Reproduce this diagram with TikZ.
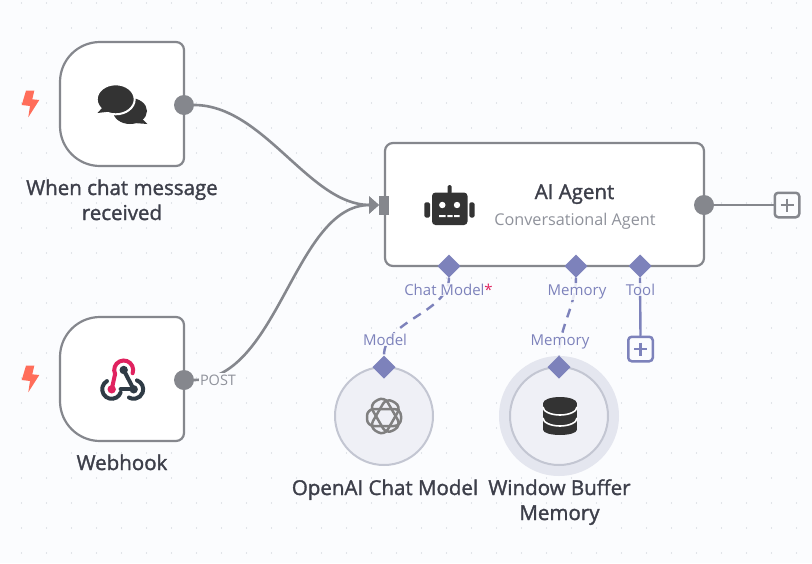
\documentclass[tikz,border=0pt]{standalone}
\usepackage{fontspec}
\setmainfont{Open Sans}
\newfontfamily\semib[FakeBold=1.5]{Open Sans}
\usetikzlibrary{shapes.geometric,arrows.meta,calc}
\definecolor{canvasbg}{HTML}{FBFCFE}
\definecolor{griddot}{HTML}{C8CCD4}
\definecolor{edgegray}{HTML}{85878D}
\definecolor{inkdark}{HTML}{333333}
\definecolor{labeldark}{HTML}{3D3F4A}
\definecolor{subgray}{HTML}{8F929B}
\definecolor{portblue}{HTML}{7D82BB}
\definecolor{circfill}{HTML}{EFF0F6}
\definecolor{circline}{HTML}{C3C6D2}
\definecolor{halo}{HTML}{E4E6EF}
\definecolor{boltred}{HTML}{FF6D5A}
\definecolor{hookred}{HTML}{E0225F}
\definecolor{hookdark}{HTML}{2F3B45}
\tikzset{
  boxline/.style={draw=edgegray,line width=2.2pt,fill=white},
  anchorbox/.style={minimum width=124pt,minimum height=124pt,inner sep=0pt,outer sep=0pt},
  outdot/.style={circle,fill=edgegray,minimum size=20pt,inner sep=0pt,outer sep=0pt},
  subport/.style={diamond,fill=portblue,minimum size=23pt,inner sep=0pt,outer sep=0pt},
  plusbox/.style={draw=#1,line width=2.5pt,rounded corners=3.5pt,fill=canvasbg,minimum size=24.5pt,inner sep=0pt,outer sep=1pt},
  title/.style={text=labeldark,font=\semib\fontsize{20.5}{25}\selectfont,align=center,inner sep=0pt,anchor=base},
  conn/.style={draw=edgegray,line width=2.6pt},
  subconn/.style={draw=portblue,line width=2.4pt},
  portlabel/.style={text=portblue,font=\fontsize{15}{16}\selectfont,fill=canvasbg,fill opacity=.85,text opacity=1,inner sep=1pt,anchor=base},
  roundnode/.style={circle,draw=circline,line width=2pt,fill=circfill,minimum size=98pt,inner sep=0pt,outer sep=0pt},
  boltshape/.style={fill=boltred},
}
\begin{document}
\begin{tikzpicture}[x=1pt,y=-1pt]
\useasboundingbox (0,0) rectangle (812,563);
\fill[canvasbg] (0,0) rectangle (812,563);
\foreach \i in {0,...,31}{\foreach \j in {0,...,22}{
  \fill[griddot] (21.5+25*\i,3+25*\j) circle (.6pt);}}

% anchors of the nodes
\node[anchorbox] (chat) at (122,104) {};
\node[anchorbox] (hook) at (122,379) {};
\node[minimum width=319pt,minimum height=123pt,inner sep=0pt,outer sep=0pt] (agent) at (544.5,204.5) {};

% node boxes
\foreach \n in {chat,hook}{
  \draw[boxline] ($(\n.north west)+(0,40)$) arc[start angle=180,end angle=90,radius=40pt]
     -- ($(\n.north east)+(-8,0)$) arc[start angle=90,end angle=0,radius=8pt]
     -- ($(\n.south east)+(0,-8)$) arc[start angle=0,end angle=-90,radius=8pt]
     -- ($(\n.south west)+(40,0)$) arc[start angle=-90,end angle=-180,radius=40pt] -- cycle;
}
\draw[boxline,rounded corners=8pt] (agent.north west) rectangle (agent.south east);

% ports
\node[outdot] (chatout) at (184,105) {};
\node[outdot] (hookout) at (184,380) {};
\node[outdot] (agentout) at (704,205) {};
\node[fill=edgegray,minimum width=10pt,minimum height=19pt,inner sep=0pt,outer sep=0pt] (agentin) at (384,205) {};

% connectors
\draw[conn,-{Triangle[length=10pt,width=17pt]}] (chatout.east) to[out=0,in=180,looseness=.85] (agentin.west);
\draw[conn,-{Triangle[length=10pt,width=17pt]}] (hookout.east) to[out=0,in=180,looseness=.85] (agentin.west);
\node[text=subgray,font=\fontsize{14.5}{16}\selectfont,fill=canvasbg,inner sep=1pt,anchor=base] (postlabel) at (218,385) {POST};

\node[plusbox=edgegray] (plusmain) at (787,205) {};
\draw[conn] (agentout) -- (plusmain);
\draw[edgegray,line width=2.8pt] ($(plusmain)+(-6.5,0)$) -- ($(plusmain)+(6.5,0)$) ($(plusmain)+(0,-6.5)$) -- ($(plusmain)+(0,6.5)$);

% sub nodes
\fill[halo] (559,416) circle (60pt);
\node[roundnode] (memnode) at (559,416) {};
\node[roundnode] (modelnode) at (384,416) {};

\node[subport] (pchat) at (449,266) {};
\node[subport] (pmem) at (576,266) {};
\node[subport] (ptool) at (640,266) {};
\node[subport] (mtop) at (384,367) {};
\node[subport] (wtop) at (559,367) {};
\node[plusbox=portblue] (plustool) at (640.5,349) {};
\draw[portblue,line width=2.8pt] ($(plustool)+(-6.5,0)$) -- ($(plustool)+(6.5,0)$) ($(plustool)+(0,-6.5)$) -- ($(plustool)+(0,6.5)$);

\draw[subconn,dash pattern=on 9pt off 7pt] (pchat.south) to[out=-90,in=90,looseness=.9] (mtop.north);
\draw[subconn,dash pattern=on 9pt off 7pt] (pmem.south) to[out=-90,in=90,looseness=.9] (wtop.north);
\draw[subconn] (ptool.south) -- (plustool.north);

\node[portlabel] (lchat) at (448.5,295) {Chat Model\textcolor{hookred}{*}};
\node[portlabel] (lmem) at (577,295) {Memory};
\node[portlabel] (ltool) at (640.5,295) {Tool};
\node[portlabel] (lmodel) at (385,345) {Model};
\node[portlabel] (lwin) at (560,345) {Memory};

% titles
\node[title] (tchat) at (122,220) {When chat message\\received};
\node[title] (thook) at (122,470) {Webhook};
\node[title] (tagent) at (574.5,199) {AI Agent};
\node[text=subgray,font=\fontsize{16.2}{20}\selectfont,inner sep=0pt,anchor=base] (sagent) at (575,225) {Conversational Agent};
\node[title] (tmodel) at (385,495) {OpenAI Chat Model};
\node[title] (twin) at (559.5,520) {Window Buffer\\Memory};

% bolts
\foreach \d in {0,275}{
  \fill[boltshape] (26,90.7+\d) -- (34.3,90.7+\d) -- (32.3,99.3+\d) -- (39.3,100+\d) -- (28.3,117.3+\d) -- (30,106+\d) -- (21.7,105+\d) -- cycle;
}

% chat icon
\fill[inkdark] (130,111) ellipse (17pt and 13pt);
\fill[inkdark] (139,116) -- (147.5,124) -- (134,123) -- cycle;
\fill[inkdark,draw=white,line width=2pt] (115.7,99.3) ellipse (19pt and 15pt);
\fill[inkdark] (103,107) -- (97.5,113) -- (110,111.5) -- cycle;

% robot icon
\begin{scope}[inkdark]
\fill[rounded corners=3.5pt] (432,192.5) rectangle (467.5,225);
\fill[rounded corners=1.5pt] (447.5,185) rectangle (451.7,194);
\fill[rounded corners=1.5pt] (424.3,202.3) rectangle (430,217.5);
\fill[rounded corners=1.5pt] (469.3,202.3) rectangle (474.5,217.5);
\fill[white] (442.3,205) circle (3.2pt) (457,205) circle (3.2pt);
\fill[white] (439,215) rectangle (445.7,217.2) (447.3,215) rectangle (452.5,217.2) (454,215) rectangle (459.5,217.2);
\end{scope}

% webhook icon
\begin{scope}[line width=4pt,line cap=round]
\draw[hookred] (123.7,370) ++(205:9.5pt) arc[start angle=205,end angle=-20,radius=9.5pt];
\draw[hookred] (115.1,374) -- (111.7,389.3);
\fill[hookred] (111.7,389.3) circle (4.2pt);
\draw[hookdark] (123.7,370) -- (133.7,389.3);
\draw[hookdark] (111.7,389.3) ++(120:9.5pt) arc[start angle=120,end angle=340,radius=9.5pt];
\draw[hookdark] (120.6,389.3) -- (133.7,389.3);
\fill[hookdark] (123.7,370) circle (4.2pt) (133.7,389.3) circle (4.2pt);
\draw[hookdark] (133.7,389.3) ++(70:9.5pt) arc[start angle=70,end angle=-120,radius=9.5pt];
\end{scope}

% OpenAI knot
\begin{scope}[shift={(384,416)},line width=2.5pt]
\foreach \a in {0,60,120}{
  \draw[rotate=\a,rounded corners=7pt,color=gray] (-17,-7) rectangle (17,10);
}
\end{scope}

% database icon
\begin{scope}[inkdark]
\fill (543.2,403) arc[start angle=180,end angle=0,x radius=16.8pt,y radius=6pt] -- (576.8,430) arc[start angle=0,end angle=-180,x radius=16.8pt,y radius=5pt] -- cycle;
\draw[white,line width=1.6pt] (543,407) arc[start angle=180,end angle=360,x radius=17pt,y radius=8pt];
\draw[white,line width=1.6pt] (543,418) arc[start angle=180,end angle=360,x radius=17pt,y radius=8pt];
\end{scope}
\end{tikzpicture}
\end{document}
